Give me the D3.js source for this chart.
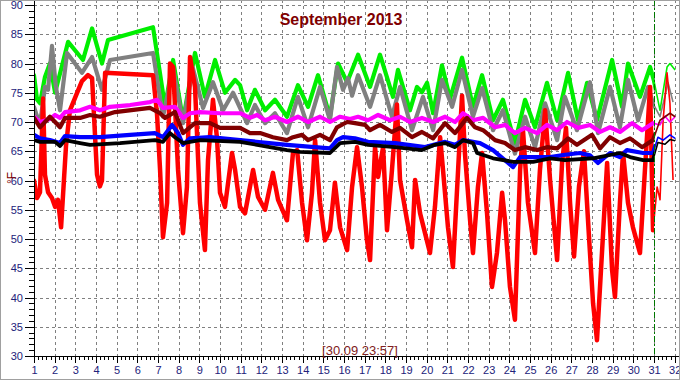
<!DOCTYPE html>
<html>
<head>
<meta charset="utf-8">
<script src="https://cdn.jsdelivr.net/npm/d3@7/dist/d3.min.js"></script>
<style>
  html, body { margin: 0; padding: 0; background: #fff; }
  svg { display: block; }
</style>
</head>
<body>
<svg id="chart" width="680" height="380"></svg>
<script>
// ---------- data (day of month, °F) ----------
const title = "September 2013";
const unitLabel = "°F";
const stampLabel = "[30.09 23:57]";
const markerDay = 31;
const xTicks = d3.range(1, 33);
const yTicks = [30, 35, 40, 45, 50, 55, 60, 65, 70, 75, 80, 85, 90];

const greenSeries = [
 [1.00,78],[1.15,73.8],[1.29,73.2],[1.53,77.7],[1.77,80],[2.02,75],[2.65,83.7],[3.37,80.6],[3.81,86],[4.29,80],[4.58,84],
 [6.76,86.2],[7.34,72.6],[7.73,80.6],[8.21,70.3],[8.79,81.8],[9.27,74.3],[9.76,80.6],[10.24,75],[10.73,77.2],[10.97,76.3],
 [11.31,72],[11.69,75.5],[12.18,72],[12.66,73.8],[13.24,70.9],[13.77,76.3],[14.26,72.6],[14.74,78],[15.32,70.9],[15.71,80],
 [16.15,76.8],[16.68,81.5],[17.26,76],[17.74,81.5],[18.37,74.3],[18.61,78.9],[19.19,72],[19.53,76],[19.77,75.1],[20.02,76.7],
 [20.31,71.5],[20.74,79.7],[21.13,74],[21.71,81],[22.24,72.6],[22.68,78],[23.21,70.3],[23.69,73.8],[24.27,66.4],[24.76,73.8],
 [25.24,69.1],[25.82,76.7],[26.31,70.3],[26.84,78.4],[27.32,70.3],[27.76,76.7],[28.24,70.3],[28.97,80.6],[29.45,72.6],[29.74,80],
 [30.32,74.3],[30.81,79.4],[31.00,77],[31.29,72],[31.63,79.4],[31.77,80],[32.02,78.9]
];
const graySeries = [
 [1.00,72.6],[1.15,70.9],[1.34,70.9],[1.53,76],[1.68,75.5],[1.87,83],[2.06,76],[2.26,72],[2.60,81.8],[3.32,78.4],[3.81,81.1],
 [4.29,75.5],[4.68,80.6],[6.76,81.8],[7.24,70.9],[7.73,79.2],[8.21,69.8],[8.69,79.2],[9.18,72.4],[9.66,76.8],[10.15,72],[10.63,75],
 [11.31,69.8],[11.69,72.9],[12.18,69.8],[12.66,71.5],[13.24,68.1],[13.77,74.3],[14.26,69.1],[14.84,76],[15.32,70.3],[15.66,79.4],
 [15.95,75.5],[16.19,77.5],[16.39,74.5],[16.68,78],[17.26,72.6],[17.74,78],[18.32,70.9],[18.71,76],[19.29,68.6],[19.82,74.3],
 [20.31,68.6],[20.74,77.2],[21.23,72.6],[21.71,78.9],[22.24,70.9],[22.68,75.8],[23.21,68.6],[23.69,72],[24.27,64.6],[24.76,70.9],
 [25.24,65.7],[25.73,73.2],[26.31,66.9],[26.69,74.3],[27.27,68.6],[27.90,76.8],[28.29,68.1],[28.87,76],[29.35,69.1],[29.74,77.2],
 [30.23,70.3],[30.71,76],[30.95,73.2],[31.29,70.9],[31.68,76.7],[31.92,73.4]
];
const redSeries = [
 [1.00,60],[1.15,57],[1.29,58],[1.44,74],[1.53,61],[1.68,58],[1.87,57],[2.02,55.5],[2.16,56.7],[2.31,52],[2.55,66],[2.74,72],
 [3.03,74.5],[3.32,77],[3.61,78],[3.81,77.5],[4.05,61],[4.19,59],[4.29,60],[4.44,78.4],[6.76,78],[6.95,71.5],[7.10,61.8],
 [7.24,50.3],[7.44,56.2],[7.58,80],[7.73,79.4],[7.97,61.8],[8.21,51],[8.40,58.9],[8.55,81.1],[8.79,76],[9.03,56.2],[9.27,48.1],
 [9.42,63.5],[9.66,73.8],[9.85,67.4],[10.00,57.9],[10.24,55.5],[10.58,64.7],[10.73,61.8],[10.97,55.5],[11.21,54.4],[11.60,61.8],
 [11.84,57.2],[12.18,55],[12.56,61.3],[12.81,56.7],[13.24,53.2],[13.53,64.7],[13.73,65.2],[13.97,56.2],[14.21,49.8],[14.45,57.9],
 [14.60,66.9],[14.84,56.2],[15.08,49.8],[15.32,51.5],[15.56,59.6],[15.81,52],[16.15,48.1],[16.39,58.9],[16.63,65.7],[16.87,58.9],
 [17.11,49.8],[17.26,46.4],[17.50,65.7],[17.65,60.6],[17.89,65.7],[18.08,51.5],[18.32,61.8],[18.56,73],[18.71,60.1],[19.05,53.2],
 [19.29,48.6],[19.44,60.1],[19.68,54.4],[19.92,51],[20.16,47.6],[20.40,55.5],[20.65,67.4],[20.79,61.8],[21.03,52],[21.27,45.2],
 [21.52,61.8],[21.71,74.5],[21.85,64.7],[22.10,53.2],[22.24,47.6],[22.48,58.9],[22.68,64.7],[22.92,54.4],[23.16,41.8],[23.40,47.6],
 [23.65,57.9],[23.79,53.2],[24.03,41.8],[24.27,36.2],[24.52,61.8],[24.66,68.5],[24.90,56.2],[25.24,47.6],[25.48,61.8],[25.73,72],
 [25.97,60.1],[26.31,46.4],[26.55,63],[26.74,69],[26.94,56],[27.13,47],[27.37,59],[27.61,65],[27.86,50],[28.05,39],[28.24,32.7],
 [28.48,47.6],[28.73,63],[28.97,44.7],[29.11,40.1],[29.35,56.2],[29.50,64.7],[29.74,56.2],[29.98,52],[30.32,47.6],[30.56,61.8],
 [30.81,76],[30.95,51.5],[31.15,58.9],[31.29,56.7],[31.44,70.3],[31.63,78.4],[31.77,73.2],[31.92,60.1]
];
const magentaSeries = [
 [1.00,70.9],[1.29,70],[1.77,70.5],[2.02,71.2],[2.26,70.7],[2.50,71.7],[3.23,72],[3.71,72.6],[4.19,72],[4.68,72.6],[5.65,72.9],
 [6.61,73.4],[6.95,73.8],[7.24,72.4],[7.82,72.6],[8.21,70.7],[8.55,71.5],[9.03,71.7],[10.00,71.5],[10.97,71.5],[11.45,70.7],
 [11.79,71.2],[12.18,70.3],[12.66,70.9],[13.24,70],[13.77,70.9],[14.26,70],[14.84,70.9],[15.32,70],[15.81,70.9],[16.29,70.5],
 [16.68,70.9],[17.16,70.3],[17.65,71.2],[18.23,70.3],[18.71,70.9],[19.19,70],[19.77,70.7],[20.31,70],[20.89,70.9],[21.37,70],
 [21.76,71.5],[22.24,70.3],[22.73,70.7],[23.31,69.1],[23.79,69.5],[24.27,68.1],[24.76,69],[25.34,68.1],[25.82,69.5],[26.31,68.6],
 [26.79,70],[27.32,69],[27.90,69.5],[28.39,68.3],[28.87,69.1],[29.35,68.3],[29.94,69.8],[30.42,68.6],[30.95,69.8],[31.29,69.5],
 [31.53,71],[31.77,70],[32.02,70.9]
];
const maroonSeries = [
 [1.00,70.7],[1.29,69.1],[1.77,70.9],[2.02,70],[2.26,69.1],[2.50,70.7],[3.23,70.7],[3.71,71.2],[4.19,70.9],[4.92,71.7],[6.61,72.4],
 [7.10,71.5],[7.34,70.7],[7.82,71.7],[8.21,68.1],[8.79,69.8],[9.52,69.8],[10.00,69],[10.97,69],[11.45,68.1],[11.94,68.1],
 [12.56,67.4],[13.24,66.9],[13.53,67.4],[13.97,67.8],[14.26,66.9],[14.84,67.8],[15.32,66.9],[15.66,69.1],[16.15,70],[16.53,69.8],
 [17.02,69.5],[17.26,68.6],[17.74,69.5],[18.32,68.3],[18.71,69],[19.29,67.4],[19.77,68.3],[20.31,67.2],[20.89,69.8],[21.37,68.1],
 [21.95,70.7],[22.34,69.1],[22.73,68.6],[23.31,66.9],[23.79,66.4],[24.27,65.2],[24.76,65.7],[25.34,65.2],[25.82,65.7],[26.31,65.5],
 [26.84,67.2],[27.27,66.1],[28.00,67.8],[28.39,65.5],[28.87,67.4],[29.35,66.4],[29.84,67.2],[30.42,65.7],[30.95,66.9],[31.29,70.3],
 [31.77,71.5],[32.02,70.9]
];
const blueSeries = [
 [1.00,67.8],[1.29,67.2],[1.77,66.9],[2.26,66.4],[2.50,67.6],[3.23,67.4],[4.19,67.4],[5.65,67.8],[6.85,68.1],[7.24,67.4],[7.68,69.5],
 [7.97,68.1],[8.21,66.1],[8.55,67.2],[9.52,67.4],[10.97,66.9],[13.24,66.1],[15.32,65.5],[15.66,66.9],[15.95,67.4],[16.53,67.2],
 [17.16,66.6],[18.47,66.4],[19.92,65.7],[20.89,66.6],[21.37,66.1],[21.76,66.9],[22.58,66.4],[23.21,65.2],[24.18,62.3],[24.52,64],
 [25.97,64],[26.69,64.4],[27.42,64.7],[27.90,64.3],[28.29,63],[28.87,64.7],[29.35,64],[29.69,65.2],[30.47,64.7],[30.95,64.7],
 [31.19,67.4],[31.44,66.9],[31.77,67.8],[32.02,67.2]
];
const blackSeries = [
 [1.00,66.9],[1.29,66.6],[2.02,66.6],[2.26,65.9],[2.50,66.9],[3.23,66.4],[3.71,66.1],[5.16,66.4],[6.85,66.9],[7.24,66.6],[7.58,68.1],
 [7.82,67.4],[8.21,66.4],[9.03,66.9],[10.97,66.6],[13.24,65.2],[13.87,64.9],[15.32,64.7],[15.81,66.4],[16.53,66.6],[17.16,66.1],
 [18.47,65.7],[19.77,65.2],[20.40,66.1],[20.89,66.4],[21.37,65.7],[21.76,66.9],[22.24,66.4],[22.44,64.7],[23.21,63.8],[24.18,63.2],
 [25.15,63.2],[25.97,63.8],[26.69,63.5],[28.05,63.8],[29.35,64.7],[29.84,64],[30.47,63.5],[30.95,63.5],[31.19,66.5],[31.53,66.2],
 [31.77,67],[32.02,66.8]
];

// series drawing order and colours
const seriesList = [
  { data: greenSeries,   color: "#00ee00", w: 4.2 },
  { data: graySeries,    color: "#808080", w: 4.2 },
  { data: redSeries,     color: "#ff0000", w: 4.5 },
  { data: magentaSeries, color: "#ff00ff", w: 4.2 },
  { data: maroonSeries,  color: "#800000", w: 4.2 },
  { data: blueSeries,    color: "#0000ff", w: 4.2 },
  { data: blackSeries,   color: "#000000", w: 3.8 }
];

// ---------- layout ----------
const W = 680, H = 380;
const pL = 34, pR = 674.7, pT = 5, pB = 356;
const svg = d3.select("#chart");

const x = d3.scaleLinear().domain([1, 32]).range([pL, pR]);
const y = d3.scaleLinear().domain([30, 90]).range([pB, pT]);

const axisColor = "#22227a";
const font = "'Liberation Sans', Arial, sans-serif";

svg.append("rect").attr("x", 0).attr("y", 0).attr("width", W).attr("height", H).attr("fill", "#fff");

// grid
const grid = svg.append("g").attr("stroke", "#808080").attr("stroke-width", 1).attr("stroke-dasharray", "3,3").attr("shape-rendering", "crispEdges");
grid.selectAll("line.v").data(xTicks.filter(d => d > 1)).join("line")
  .attr("x1", d => Math.round(x(d)) + 0.5).attr("x2", d => Math.round(x(d)) + 0.5)
  .attr("y1", 0).attr("y2", pB);
grid.selectAll("line.h").data(yTicks.filter(d => d > 30)).join("line")
  .attr("x1", pL).attr("x2", W - 1)
  .attr("y1", d => Math.round(y(d)) + 0.5).attr("y2", d => Math.round(y(d)) + 0.5);

// clip paths for thick (≤ markerDay) and thin (> markerDay) parts
const defs = svg.append("defs");
defs.append("clipPath").attr("id", "clipMain").append("rect")
  .attr("x", pL).attr("y", 0).attr("width", x(markerDay) - pL).attr("height", pB);
defs.append("clipPath").attr("id", "clipTail").append("rect")
  .attr("x", x(markerDay)).attr("y", 0).attr("width", W - x(markerDay)).attr("height", pB);

const line = d3.line().x(d => x(d[0])).y(d => y(d[1]));

const gMain = svg.append("g").attr("clip-path", "url(#clipMain)");
const gTail = svg.append("g").attr("clip-path", "url(#clipTail)");
seriesList.forEach(s => {
  gMain.append("path").attr("d", line(s.data)).attr("fill", "none")
    .attr("stroke", s.color).attr("stroke-width", s.w)
    .attr("stroke-linejoin", "round").attr("stroke-linecap", "round");
  gTail.append("path").attr("d", line(s.data)).attr("fill", "none")
    .attr("stroke", s.color).attr("stroke-width", 1.6)
    .attr("stroke-linejoin", "round");
});

// marker line (current time)
svg.append("line")
  .attr("x1", Math.round(x(markerDay)) + 0.5).attr("x2", Math.round(x(markerDay)) + 0.5)
  .attr("y1", 0).attr("y2", pB)
  .attr("stroke", "#007700").attr("stroke-width", 1).attr("stroke-dasharray", "6,2,2,2");

// axes
const yAxis = d3.axisLeft(y).tickValues(yTicks).tickSize(9).tickPadding(2).tickFormat(d3.format("d"));
const yMinor = d3.axisLeft(y).tickValues(d3.range(30, 91, 1)).tickSize(5).tickFormat("");
const gyMinor = svg.append("g").attr("transform", `translate(${pL},0)`).call(yMinor);
const gy = svg.append("g").attr("transform", `translate(${pL},0)`).call(yAxis);

const xAxis = d3.axisBottom(x).tickValues(xTicks).tickSize(7).tickPadding(3).tickFormat(d3.format("d"));
const xMinor = d3.axisBottom(x).tickValues(d3.range(1, 32.01, 0.2)).tickSize(4).tickFormat("");
const gxMinor = svg.append("g").attr("transform", `translate(0,${pB})`).call(xMinor);
const gx = svg.append("g").attr("transform", `translate(0,${pB})`).call(xAxis);

[gy, gyMinor, gx, gxMinor].forEach(g => {
  g.select(".domain").attr("stroke", "#000").attr("stroke-width", 1);
  g.selectAll(".tick line").attr("stroke", "#000").attr("shape-rendering", "crispEdges");
  g.selectAll("text").attr("fill", axisColor).attr("font-family", font).attr("font-size", 11);
});
gxMinor.select(".domain").remove();
gyMinor.select(".domain").remove();
gx.select(".domain").attr("d", `M${pL},0.5H${W - 1}`);
gy.select(".domain").attr("d", `M0.5,0V${pB}`);

// unit label
svg.append("text").attr("transform", "translate(16,178) rotate(-90)")
  .attr("text-anchor", "middle").attr("fill", "#800000")
  .attr("font-family", font).attr("font-size", 12).text(unitLabel);

// title
svg.append("text").attr("x", 341).attr("y", 25).attr("text-anchor", "middle")
  .attr("fill", "#800000").attr("font-family", font).attr("font-weight", "bold").attr("font-size", 16)
  .text(title);

// timestamp
svg.append("text").attr("x", 360).attr("y", 355).attr("text-anchor", "middle")
  .attr("fill", "#802020").attr("font-family", font).attr("font-size", 13)
  .text(stampLabel);

// frame
svg.append("rect").attr("x", 0.5).attr("y", 0.5).attr("width", W - 1).attr("height", H - 1)
  .attr("fill", "none").attr("stroke", "#a0a0a0");
</script>
</body>
</html>
